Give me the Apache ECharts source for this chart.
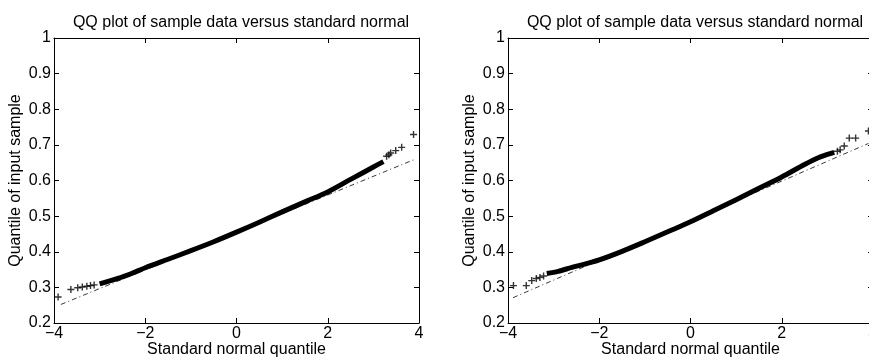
<!DOCTYPE html>
<html>
<head>
<meta charset="utf-8">
<script src="https://cdn.jsdelivr.net/npm/echarts@6/dist/echarts.min.js"></script>
<style>html,body{margin:0;padding:0;background:#fff}#c{width:869px;height:360px}</style>
</head>
<body>
<div id="c"></div>
<script>
// ---- Data ----
var titleText = 'QQ plot of sample data versus standard normal';
var xName = 'Standard normal quantile';
var yName = 'Quantile of input sample';
var xTicks = [-4, -2, 0, 2, 4];
var yTicks = [0.2, 0.3, 0.4, 0.5, 0.6, 0.7, 0.8, 0.9, 1];

// Left panel: dense band of points (centre line), sparse tail points, reference line
var leftBandX = [-3.0, -2.6, -2.3, -2.0, -1.5, -1.0, -0.5, 0, 0.5, 1.0, 1.5, 2.0, 2.5, 3.0, 3.22];
var leftBandY = [0.310, 0.325, 0.339, 0.355, 0.379, 0.403, 0.428, 0.455, 0.483, 0.512, 0.540, 0.568, 0.603, 0.638, 0.653];
var leftTailX = [-3.91, -3.63, -3.48, -3.38, -3.28, -3.20, -3.12, 3.29, 3.34, 3.38, 3.49, 3.62, 3.88];
var leftTailY = [0.273, 0.294, 0.299, 0.301, 0.303, 0.305, 0.307, 0.668, 0.672, 0.677, 0.684, 0.693, 0.729];
var leftRefX = [-3.85, 3.90];
var leftRefY = [0.252, 0.659];

// Right panel
var rightBandX = [-3.15, -2.9, -2.6, -2.3, -2.0, -1.5, -1.0, -0.5, 0, 0.5, 1.0, 1.5, 2.0, 2.5, 2.8, 3.0, 3.15];
var rightBandY = [0.339, 0.345, 0.356, 0.366, 0.377, 0.401, 0.428, 0.456, 0.484, 0.515, 0.546, 0.578, 0.610, 0.645, 0.664, 0.673, 0.679];
var rightTailX = [-3.88, -3.60, -3.48, -3.38, -3.30, -3.22, 3.22, 3.28, 3.37, 3.48, 3.62, 3.90];
var rightTailY = [0.305, 0.305, 0.319, 0.325, 0.328, 0.332, 0.682, 0.686, 0.697, 0.719, 0.719, 0.739];
var rightRefX = [-3.89, 3.90];
var rightRefY = [0.271, 0.704];

function zip(a, b) { return a.map(function (v, i) { return [v, b[i]]; }); }

var FONT = 'Liberation Sans, Arial, Helvetica, sans-serif';
var PLUS = 'path://M0,4L10,4L10,6L0,6Z M4,0L6,0L6,10L4,10Z';

var grids = [
  { left: 54, top: 38, width: 365, height: 285, outerBoundsMode: 'none', containLabel: false },
  { left: 508, top: 38, width: 365, height: 285, outerBoundsMode: 'none', containLabel: false }
];

function xAxisMain(g) {
  return {
    type: 'value', gridIndex: g, min: xTicks[0], max: xTicks[xTicks.length - 1], interval: 2,
    position: 'bottom',
    name: xName, nameLocation: 'middle', nameGap: 19, nameMoveOverlap: false,
    nameTextStyle: { fontFamily: FONT, fontSize: 16, color: '#000' },
    axisLine: { show: true, onZero: false, lineStyle: { color: '#000', width: 1 } },
    axisTick: { show: true, inside: true, length: 5, lineStyle: { color: '#000' } },
    axisLabel: { show: true, margin: 3, fontFamily: FONT, fontSize: 16, color: '#000',
      formatter: function (v) { return String(v).replace('-', '\u2212'); } },
    splitLine: { show: false }
  };
}
function xAxisTop(g) {
  return {
    type: 'value', gridIndex: g, min: xTicks[0], max: xTicks[xTicks.length - 1], interval: 2,
    position: 'top',
    axisLine: { show: true, onZero: false, lineStyle: { color: '#000', width: 1 } },
    axisTick: { show: true, inside: true, length: 5, lineStyle: { color: '#000' } },
    axisLabel: { show: false }, splitLine: { show: false }
  };
}
function yAxisMain(g) {
  return {
    type: 'value', gridIndex: g, min: yTicks[0], max: yTicks[yTicks.length - 1], interval: 0.1,
    position: 'left',
    name: yName, nameLocation: 'middle', nameGap: 30, nameMoveOverlap: false,
    nameTextStyle: { fontFamily: FONT, fontSize: 16, color: '#000' },
    axisLine: { show: true, onZero: false, lineStyle: { color: '#000', width: 1 } },
    axisTick: { show: true, inside: true, length: 5, lineStyle: { color: '#000' } },
    axisLabel: { show: true, margin: 3, fontFamily: FONT, fontSize: 16, color: '#000',
      formatter: function (v) { return String(+(+v).toFixed(1)); } },
    splitLine: { show: false }
  };
}
function yAxisRight(g) {
  return {
    type: 'value', gridIndex: g, min: yTicks[0], max: yTicks[yTicks.length - 1], interval: 0.1,
    position: 'right',
    axisLine: { show: true, onZero: false, lineStyle: { color: '#000', width: 1 } },
    axisTick: { show: true, inside: true, length: 5, lineStyle: { color: '#000' } },
    axisLabel: { show: false }, splitLine: { show: false }
  };
}

function panelSeries(xi, yi, bandX, bandY, tailX, tailY, refX, refY) {
  return [
    { type: 'line', xAxisIndex: xi, yAxisIndex: yi, data: zip(refX, refY), symbol: 'none',
      lineStyle: { color: '#222', width: 0.9, type: [5, 3, 1, 3] }, z: 1, silent: true },
    { type: 'line', xAxisIndex: xi, yAxisIndex: yi, data: zip(bandX, bandY), symbol: 'none', smooth: 0.3,
      lineStyle: { color: '#000', width: 5, cap: 'butt', join: 'round' }, z: 2, silent: true },
    { type: 'scatter', xAxisIndex: xi, yAxisIndex: yi, data: zip(tailX, tailY), symbol: PLUS, symbolSize: 7,
      itemStyle: { color: '#000' }, z: 3, silent: true }
  ];
}

var chart = echarts.init(document.getElementById('c'), null, { renderer: 'canvas' });
chart.setOption({
  animation: false,
  backgroundColor: '#fff',
  title: [
    { text: titleText, left: 236, top: 10, textAlign: 'center',
      textStyle: { fontFamily: FONT, fontSize: 16, fontWeight: 'normal', color: '#000' } },
    { text: titleText, left: 690, top: 10, textAlign: 'center',
      textStyle: { fontFamily: FONT, fontSize: 16, fontWeight: 'normal', color: '#000' } }
  ],
  grid: grids,
  xAxis: [xAxisMain(0), xAxisTop(0), xAxisMain(1), xAxisTop(1)],
  yAxis: [yAxisMain(0), yAxisRight(0), yAxisMain(1), yAxisRight(1)],
  series: [].concat(
    panelSeries(0, 0, leftBandX, leftBandY, leftTailX, leftTailY, leftRefX, leftRefY),
    panelSeries(2, 2, rightBandX, rightBandY, rightTailX, rightTailY, rightRefX, rightRefY)
  )
});
</script>
</body>
</html>
